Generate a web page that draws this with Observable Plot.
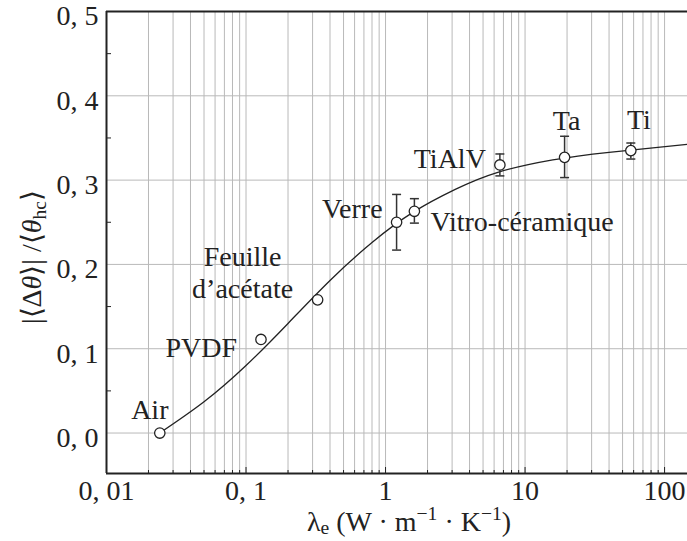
<!DOCTYPE html>
<html>
<head>
<meta charset="utf-8">
<script src="https://cdn.jsdelivr.net/npm/d3@7"></script>
<script src="https://cdn.jsdelivr.net/npm/@observablehq/plot@0.6"></script>
<style>
  html, body { margin: 0; padding: 0; background: #fff; }
  #chart svg { display: block; }
</style>
</head>
<body>
<div id="chart"></div>
<script>
// ---- data ----
const materials = ["Air", "PVDF", "Feuille\nd’acétate", "Verre", "Vitro-céramique", "TiAlV", "Ta", "Ti"];
const lambdaE   = [0.0241, 0.128, 0.326, 1.2, 1.61, 6.6, 19.2, 57.3];
const ratio     = [0.0, 0.111, 0.158, 0.250, 0.263, 0.318, 0.327, 0.335];
const errLow    = [null, null, null, 0.217, 0.249, 0.305, 0.303, 0.325];
const errHigh   = [null, null, null, 0.283, 0.278, 0.331, 0.352, 0.344];

const curveX = [0.0241, 0.05, 0.1, 0.2, 0.4, 0.8, 1.58, 3.16, 6.3, 15.8, 40, 146];
const curveY = [0.0, 0.037, 0.080, 0.130, 0.181, 0.226, 0.262, 0.289, 0.309, 0.324, 0.333, 0.3425];

const xDomain = [0.01, 146];
const yDomain = [-0.048, 0.5];
const xMajorTicks = [0.01, 0.1, 1, 10, 100];
const xTickLabels = ["0, 01", "0, 1", "1", "10", "100"];
const yMajorTicks = [0, 0.1, 0.2, 0.3, 0.4, 0.5];
const yTickLabels = ["0, 0", "0, 1", "0, 2", "0, 3", "0, 4", "0, 5"];
const yMinorTicks = [0.05, 0.15, 0.25, 0.35, 0.45];
const xMinorTicks = [0.02,0.03,0.04,0.05,0.06,0.07,0.08,0.09,
                     0.2,0.3,0.4,0.5,0.6,0.7,0.8,0.9,
                     2,3,4,5,6,7,8,9,
                     20,30,40,50,60,70,80,90];

// ---- layout (label placement, in pixels, kept apart from the data) ----
const labelLayout = {
  "Air":              {anchor: "middle", dx: -10, dy: -24},
  "PVDF":             {anchor: "end",    dx: -24, dy: 7},
  "Feuille\nd’acétate": {anchor: "middle", dx: -75, dy: -28},
  "Verre":            {anchor: "end",    dx: -14, dy: -15},
  "Vitro-céramique":  {anchor: "start",  dx: 16,  dy: 9},
  "TiAlV":            {anchor: "end",    dx: -14, dy: -7},
  "Ta":               {anchor: "middle", dx: 2,   dy: -38},
  "Ti":               {anchor: "middle", dx: 8,   dy: -32}
};

const points = materials.map((m, i) => ({name: m, x: lambdaE[i], y: ratio[i], lo: errLow[i], hi: errHigh[i]}));
const errPts = points.filter(d => d.lo != null);
const curve = curveX.map((x, i) => ({x, y: curveY[i]}));

const capSymbol = {draw(ctx) { ctx.moveTo(-4.5, 0); ctx.lineTo(4.5, 0); }};
const FONT = "'Liberation Serif', 'Times New Roman', serif";
const FS = 28;
const INK = "#222";

const marks = [
  Plot.gridX(xMinorTicks.concat(xMajorTicks), {stroke: "#b9b9b9", strokeOpacity: 1, strokeWidth: 1}),
  Plot.gridY(yMajorTicks, {stroke: "#b9b9b9", strokeOpacity: 1, strokeWidth: 1}),
  Plot.axisX({ticks: xMinorTicks, tickSize: -3, text: null, label: null, stroke: INK, strokeWidth: 1}),
  Plot.axisX({ticks: xMajorTicks, tickSize: -6, text: null, label: null, stroke: INK, strokeWidth: 1}),
  Plot.axisY({ticks: yMinorTicks, tickSize: -5, text: null, label: null, stroke: INK, strokeWidth: 1}),
  Plot.text(xMajorTicks, {x: d => d, frameAnchor: "bottom", dy: 18, text: (d, i) => xTickLabels[i],
    fontSize: FS, fill: INK, lineAnchor: "middle"}),
  Plot.text(yMajorTicks, {y: d => d, frameAnchor: "left", dx: -8, dy: 5, textAnchor: "end", text: (d, i) => yTickLabels[i],
    fontSize: FS, fill: INK, lineAnchor: "middle"}),
  Plot.ruleX([xDomain[0]], {stroke: INK, strokeWidth: 2}),
  Plot.ruleY([yDomain[0], yDomain[1]], {stroke: INK, strokeWidth: 2}),
  Plot.line(curve, {x: "x", y: "y", curve: "natural", stroke: INK, strokeWidth: 1.3}),
  Plot.ruleX(errPts, {x: "x", y1: "lo", y2: "hi", stroke: "#333", strokeWidth: 1.5}),
  Plot.dot(errPts, {x: "x", y: "lo", symbol: capSymbol, r: 4, stroke: "#333", strokeWidth: 1.5}),
  Plot.dot(errPts, {x: "x", y: "hi", symbol: capSymbol, r: 4, stroke: "#333", strokeWidth: 1.5}),
  Plot.dot(points, {x: "x", y: "y", r: 5.2, fill: "white", stroke: INK, strokeWidth: 1.3}),
];

for (const p of points) {
  const L = labelLayout[p.name];
  marks.push(Plot.text([p], {x: "x", y: "y", text: "name", textAnchor: L.anchor, dx: L.dx, dy: L.dy,
    lineAnchor: "middle", fontSize: FS, fill: INK, lineHeight: 1.15}));
}

const chart = Plot.plot({
  width: 687,
  height: 541,
  marginLeft: 106,
  marginRight: 0,
  marginTop: 11,
  marginBottom: 68,
  style: {fontFamily: FONT, fontSize: FS + "px", background: "white", color: INK},
  x: {type: "log", domain: xDomain, axis: null},
  y: {domain: yDomain, axis: null},
  marks
});

const svg = d3.select(chart);
const yt = svg.append("text")
  .attr("transform", "translate(41,257) rotate(-90)")
  .attr("text-anchor", "middle")
  .style("font-family", FONT)
  .attr("font-size", FS)
  .attr("fill", INK);
yt.append("tspan").text("|⟨Δ");
yt.append("tspan").attr("font-style", "italic").text("θ");
yt.append("tspan").text("⟩| /⟨");
yt.append("tspan").attr("font-style", "italic").text("θ");
yt.append("tspan").attr("font-size", FS * 0.7).attr("dy", 5).text("hc");
yt.append("tspan").attr("dy", -5).text("⟩");

const xt = svg.append("text")
  .attr("x", 409).attr("y", 531)
  .attr("text-anchor", "middle")
  .style("font-family", FONT)
  .attr("font-size", FS)
  .attr("fill", INK);
xt.append("tspan").text("λ");
xt.append("tspan").attr("font-size", FS * 0.7).attr("dy", 3).text("e");
xt.append("tspan").attr("dy", -3).text(" (W · m");
xt.append("tspan").attr("font-size", FS * 0.7).attr("dy", -11).text("−1");
xt.append("tspan").attr("dy", 11).text(" · K");
xt.append("tspan").attr("font-size", FS * 0.7).attr("dy", -11).text("−1");
xt.append("tspan").attr("dy", 11).text(")");

document.getElementById("chart").appendChild(chart);
</script>
</body>
</html>
